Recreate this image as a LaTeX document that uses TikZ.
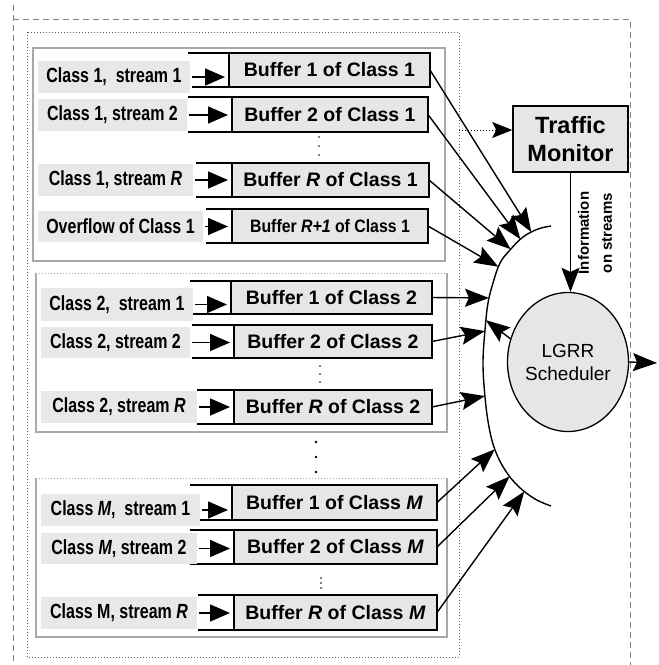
\documentclass[tikz,border=0pt]{standalone}
\usepackage{fontspec}
\setmainfont{Liberation Sans}
\usetikzlibrary{arrows.meta,shapes.geometric,calc,intersections}
\definecolor{lblgray}{HTML}{E8E8E8}
\definecolor{bufgray}{HTML}{E6E6E6}
\definecolor{grpgray}{HTML}{A8A8A8}
\definecolor{boxgray}{HTML}{606060}
\definecolor{outgray}{HTML}{808080}
\newcommand{\condtxt}[1]{\scalebox{0.78}[1]{#1}}
\begin{document}
\begin{tikzpicture}[x=1pt,y=-1pt,
  lbl/.style={fill=lblgray, inner sep=0pt, outer sep=0pt, font=\fontsize{20.5}{22}\selectfont\bfseries},
  buf/.style={draw, line width=1.5pt, fill=bufgray, inner sep=0pt, outer sep=0pt, font=\fontsize{19.5}{22}\selectfont\bfseries},
  qline/.style={line width=1.5pt},
  sarr/.style={-{Triangle[length=20pt,width=17pt]}, line width=1.6pt},
  barr/.style={-{Stealth[length=24pt,width=18pt,inset=4pt]}, line width=1.4pt},
  grpline/.style={draw=grpgray, line width=1.2pt},
  grpdot/.style={draw=grpgray, line width=1pt, dotted}
]
\useasboundingbox (0,0) rectangle (659,665);

% outer dashed frame
\draw[outgray, line width=1pt, dash pattern=on 6pt off 4pt] (13,5) -- (13,665);
\draw[outgray, line width=1pt, dash pattern=on 6pt off 4pt] (13,19) -- (630,19) -- (630,665);
% inner dotted frame
\draw[boxgray, line width=1pt, dotted] (27,32) rectangle (459,657);

% group frames
\draw[grpline] (33,48) rectangle (445,261);
\draw[grpline] (36,273) -- (36,432) -- (447,432) -- (447,273);
\draw[grpdot] (36,273) -- (447,273);
\draw[grpline] (36,478) -- (36,637) -- (447,637) -- (447,478);
\draw[grpdot] (36,478) -- (447,478);

% buffers
\node[buf, minimum width=201pt, minimum height=34pt] (b11) at (329.5,70) {Buffer 1 of Class 1};
\node[buf, minimum width=196pt, minimum height=35pt] (b12) at (330,114.5) {Buffer 2 of Class 1};
\node[buf, minimum width=197pt, minimum height=34pt] (b1R) at (330.5,180) {Buffer \textit{R} of Class 1};
\node[buf, minimum width=196pt, minimum height=34pt] (b1O) at (330,226) {\fontsize{18}{20}\selectfont\scalebox{0.88}[1]{Buffer \textit{R+1} of Class 1}};
\node[buf, minimum width=201pt, minimum height=33pt] (b21) at (331.5,297.5) {Buffer 1 of Class 2};
\node[buf, minimum width=198pt, minimum height=33pt] (b22) at (333,341.5) {Buffer 2 of Class 2};
\node[buf, minimum width=198pt, minimum height=34pt] (b2R) at (333,407) {Buffer \textit{R} of Class 2};
\node[buf, minimum width=205pt, minimum height=35pt] (bM1) at (334.5,502.5) {Buffer 1 of Class \textit{M}};
\node[buf, minimum width=203pt, minimum height=34pt] (bM2) at (335.5,547) {Buffer 2 of Class \textit{M}};
\node[buf, minimum width=203pt, minimum height=35pt] (bMR) at (335.5,612.5) {Buffer \textit{R} of Class \textit{M}};

% queue entrance lines
\draw[qline] (b11.north west) -- +(-41,0) (b11.south west) -- +(-37,0);
\draw[qline] (b12.north west) -- +(-44,0) (b12.south west) -- +(-44,0);
\draw[qline] (b1R.north west) -- +(-36,0) (b1R.south west) -- +(-36,0);
\draw[qline] (b1O.north west) -- +(-26,0) (b1O.south west) -- +(-26,0);
\draw[qline] (b21.north west) -- +(-41,0) (b21.south west) -- +(-41,0);
\draw[qline] (b22.north west) -- +(-42,0) (b22.south west) -- +(-42,0);
\draw[qline] (b2R.north west) -- +(-37,0) (b2R.south west) -- +(-37,0);
\draw[qline] (bM1.north west) -- +(-42,0) (bM1.south west) -- +(-42,0);
\draw[qline] (bM2.north west) -- +(-44,0) (bM2.south west) -- +(-44,0);
\draw[qline] (bMR.north west) -- +(-36,0) (bMR.south west) -- +(-36,0);

% stream labels
\node[lbl, minimum width=152pt, minimum height=32pt] (l11) at (114,77) {\condtxt{Class 1,\ \ stream 1}};
\node[lbl, minimum width=149pt, minimum height=32pt] (l12) at (112.5,115) {\condtxt{Class 1, stream 2}};
\node[lbl, minimum width=155pt, minimum height=32pt] (l1R) at (115.5,180) {\condtxt{Class 1, stream \textit{R}}};
\node[lbl, minimum width=165pt, minimum height=31pt] (l1O) at (120.5,226.5) {\condtxt{Overflow of Class 1}};
\node[lbl, minimum width=152pt, minimum height=33pt] (l21) at (117,304.5) {\condtxt{Class 2,\ \ stream 1}};
\node[lbl, minimum width=149pt, minimum height=31pt] (l22) at (115.5,342.5) {\condtxt{Class 2, stream 2}};
\node[lbl, minimum width=156pt, minimum height=32pt] (l2R) at (119,407) {\condtxt{Class 2, stream \textit{R}}};
\node[lbl, minimum width=159pt, minimum height=32pt] (lM1) at (120.5,510) {\condtxt{Class \textit{M},\ \ stream 1}};
\node[lbl, minimum width=156pt, minimum height=31pt] (lM2) at (119,548.5) {\condtxt{Class \textit{M}, stream 2}};
\node[lbl, minimum width=156pt, minimum height=32pt] (lMR) at (119,613) {\condtxt{Class M, stream \textit{R}}};

% entrance arrows
\foreach \r in {11,12,1R,1O,21,22,2R,M1,M2,MR}{
  \draw[sarr] ([xshift=2pt]l\r.east) -- ([xshift=-4pt]l\r.east -| b\r.west);
}

% vertical dots
\foreach \y in {137,146,155}{\fill (319,\y) circle (0.9);}
\foreach \y in {366,374,382}{\fill (320,\y) circle (0.9);}
\foreach \y in {578,583,588}{\fill (321,\y) circle (0.9);}
\foreach \y in {442,457,472}{\fill (316,\y) circle (1.4);}

% traffic monitor
\node[draw, line width=1.5pt, fill=bufgray, minimum width=115pt, minimum height=66pt, inner sep=0pt, align=center,
      font=\fontsize{23.5}{28}\selectfont\bfseries] (tm) at (570.5,139) {Traffic\\Monitor};
% scheduler
\node[draw, ellipse, line width=1.3pt, fill=bufgray, minimum width=107pt, minimum height=139pt, inner sep=0pt, align=center,
      font=\fontsize{19}{23}\selectfont] (sch) at (568,362) {LGRR\\Scheduler};

% merging arc
\draw[line width=1.4pt, name path=arc] plot[smooth, tension=0.6] coordinates {
  (551,226) (538,229) (523,237) (510,250) (500,263) (493,283) (488,303) (485,330) (483,363)
  (485,397) (489,427) (495,450) (505,470) (518,486) (535,499) (551,506)};

% dotted arrow to monitor
\coordinate (dm) at (459,130);
\draw[line width=1pt, dotted, -{Stealth[length=20pt,width=16pt,inset=4pt,sep=0pt]}] (dm) -- (dm -| tm.west);

% information arrow
\draw[line width=1.3pt, -{Stealth[length=24pt,width=18pt,inset=4pt]}] (tm.south) -- (tm.south |- sch.north);
\node[rotate=90, align=center, font=\fontsize{15}{23}\selectfont\bfseries, inner sep=0pt] (info) at (595,233) {Information\\on streams};

% output
\coordinate (out) at (657,363);
\draw[barr] (sch.east) -- (out);

% arrows from buffers to arc
\path[name path=p11] (b11.east) -- ($(b11.east)!1.3!(530,230)$);
\path[name path=p12] (b12.east) -- ($(b12.east)!1.3!(518,236)$);
\path[name path=p1R] (b1R.east) -- ($(b1R.east)!1.3!(508,247)$);
\path[name path=p1O] (b1O.east) -- ($(b1O.east)!1.3!(497,266)$);
\path[name path=p21] (b21.east) -- ($(b21.east)!1.4!(490,298)$);
\path[name path=p22] (b22.east) -- ($(b22.east)!1.4!(485,331)$);
\path[name path=p2R] (b2R.east) -- ($(b2R.east)!1.4!(485,396)$);
\path[name path=pM1] (bM1.east) -- ($(bM1.east)!1.3!(494,450)$);
\path[name path=pM2] (bM2.east) -- ($(bM2.east)!1.3!(507,479)$);
\path[name path=pMR] (bMR.east) -- ($(bMR.east)!1.3!(521,496)$);
\path[name path=psc] (sch.158) -- ($(sch.158)!1.6!(487,321)$);
\foreach \r in {11,12,1R,1O,21,22,2R,M1,M2,MR}{
  \path[name intersections={of=arc and p\r, by=t\r}];
  \draw[barr] (b\r.east) -- (t\r);
}
\path[name intersections={of=arc and psc, by=tsc}];
\draw[barr] (sch.158) -- (tsc);
\end{tikzpicture}
\end{document}
